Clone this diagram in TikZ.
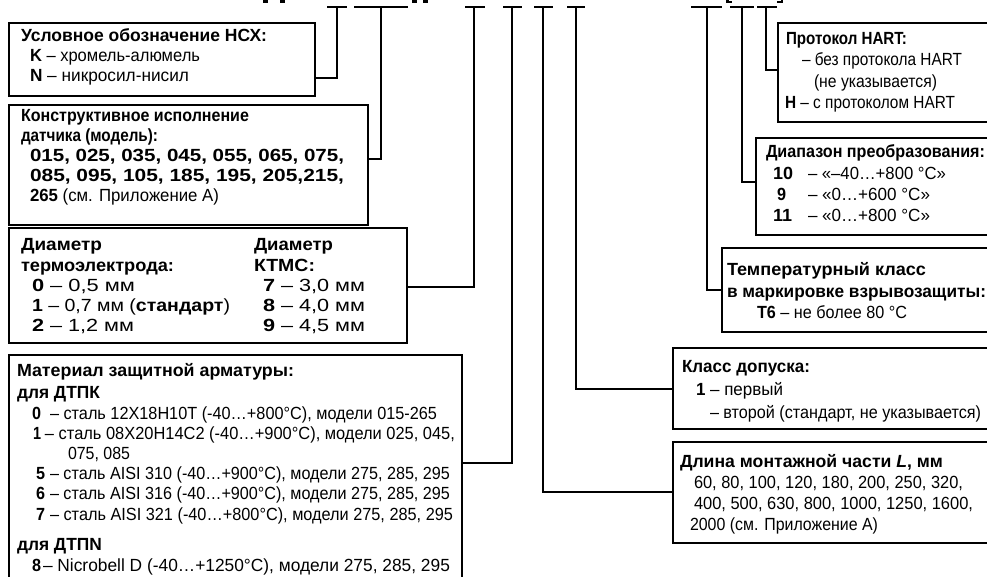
\documentclass[tikz,border=0pt]{standalone}
\usepackage{fontspec}
\usepackage{graphicx}
\setmainfont{Liberation Sans}
\usetikzlibrary{calc}
\newcommand{\fitw}[2]{\resizebox{#1pt}{\height}{#2}}
\tikzset{
  box/.style={draw, line width=2.6pt, inner sep=0pt, outer sep=0pt, anchor=north west, rectangle},
  conn/.style={line width=2.3pt},
  bar/.style={line width=2.3pt},
  txt/.style={anchor=base west, inner sep=0pt, outer sep=0pt, font=\fontsize{17.6}{20}\selectfont},
  frag/.style={fill=black},
}
\begin{document}
\begin{tikzpicture}[x=1pt,y=-1pt]
\useasboundingbox (0,0) rectangle (987,577);
\begin{scope}
\clip (0,0) rectangle (987,577);
% fragments of the cut-off title
\fill[frag] (263,0) rectangle (268,3);
\fill[frag] (280,0) rectangle (285,3);
\fill[frag] (412,0) rectangle (417,3);
\fill[frag] (423,0) rectangle (428,3);
\fill[frag] (726,0) rectangle (728.5,3.5);
\fill[frag] (726,1.5) rectangle (732,3.5);
\fill[frag] (780.5,0) rectangle (783,3.5);
\fill[frag] (777,1.5) rectangle (783,3.5);

% boxes
\node[box, minimum width=306pt, minimum height=73pt]  (b1) at (9,23) {};
\node[box, minimum width=359pt, minimum height=120pt] (b2) at (9,105) {};
\node[box, minimum width=398pt, minimum height=115pt] (b3) at (9,228) {};
\node[box, minimum width=453pt, minimum height=250pt] (b4) at (9,355) {};
\node[box, minimum width=230pt, minimum height=99pt]  (b5) at (778,23) {};
\node[box, minimum width=250pt, minimum height=97pt]  (b6) at (756,138) {};
\node[box, minimum width=280pt, minimum height=84pt]  (b7) at (722,248) {};
\node[box, minimum width=330pt, minimum height=81pt]  (b8) at (673,348) {};
\node[box, minimum width=330pt, minimum height=101pt] (b9) at (673,442) {};

% top marks
\coordinate (t1) at (337,7);
\coordinate (t2) at (381,7);
\coordinate (t3) at (474,7);
\coordinate (t4) at (512,7);
\coordinate (t5) at (543,7);
\coordinate (t6) at (576,7);
\coordinate (t7) at (707,7);
\coordinate (t8) at (742,7);
\coordinate (t9) at (766,7);
\draw[bar] (327,7) -- (347,7);
\draw[bar] (354,7) -- (408,7);
\draw[bar] (465,7) -- (485,7);
\draw[bar] (503,7) -- (522,7);
\draw[bar] (534,7) -- (553,7);
\draw[bar] (567,7) -- (585,7);
\draw[bar] (691,7) -- (722,7);
\draw[bar] (730,7) -- (754,7);
\draw[bar] (757,7) -- (777,7);

% connectors
\draw[conn] (t1) |- ([yshift=-55pt]b1.north east);
\draw[conn] (t2) |- ([yshift=-54pt]b2.north east);
\draw[conn] (t3) |- ([yshift=-59pt]b3.north east);
\draw[conn] (t4) |- ([yshift=-108pt]b4.north east);
\draw[conn] (t5) |- ([yshift=-50pt]b9.north west);
\draw[conn] (t6) |- ([yshift=-41pt]b8.north west);
\draw[conn] (t7) |- ([yshift=-42pt]b7.north west);
\draw[conn] (t8) |- ([yshift=-44pt]b6.north west);
\draw[conn] (t9) |- ([yshift=-47pt]b5.north west);

% box 1
\node[txt] (a1) at (21,42) {\fitw{246}{\textbf{Условное обозначение НСХ:}}};
\node[txt] (a2) at (30,62) {\fitw{170}{\textbf{K} – хромель-алюмель}};
\node[txt] (a3) at (30,82) {\fitw{159}{\textbf{N} – никросил-нисил}};

% box 2
\node[txt] (c1) at (21,122) {\fitw{228}{\textbf{Конструктивное исполнение}}};
\node[txt] (c2) at (21,142) {\fitw{137}{\textbf{датчика (модель):}}};
\node[txt] (c3) at (30,162) {\fitw{314}{\textbf{015, 025, 035, 045, 055, 065, 075,}}};
\node[txt] (c4) at (30,182) {\fitw{314}{\textbf{085, 095, 105, 185, 195, 205,215,}}};
\node[txt] (c5) at (30,202) {\fitw{189}{\textbf{265} (см. Приложение А)}};

% box 3
\node[txt] (d1) at (21,251) {\fitw{81}{\textbf{Диаметр}}};
\node[txt] (d2) at (21,271) {\fitw{153}{\textbf{термоэлектрода:}}};
\node[txt] (d3) at (32,291) {\fitw{103}{\textbf{0} – 0,5 мм}};
\node[txt] (d4) at (32,311) {\fitw{198}{\textbf{1} – 0,7 мм (\textbf{стандарт})}};
\node[txt] (d5) at (32,331) {\fitw{102}{\textbf{2} – 1,2 мм}};
\node[txt] (d6) at (254,251) {\fitw{79}{\textbf{Диаметр}}};
\node[txt] (d7) at (254,271) {\fitw{61}{\textbf{КТМС:}}};
\node[txt] (d8) at (263,291) {\fitw{102}{\textbf{7} – 3,0 мм}};
\node[txt] (d9) at (263,311) {\fitw{102}{\textbf{8} – 4,0 мм}};
\node[txt] (d10) at (263,331) {\fitw{102}{\textbf{9} – 4,5 мм}};

% box 4
\node[txt] (e1) at (17,376) {\fitw{277}{\textbf{Материал защитной арматуры:}}};
\node[txt] (e2) at (17,398) {\fitw{83}{\textbf{для ДТПК}}};
\node[txt] (e3) at (32,419) {\fitw{9}{\textbf{0}}};
\node[txt] (e3b) at (50,419) {\fitw{387}{– сталь 12Х18Н10Т (-40…+800°C), модели 015-265}};
\node[txt] (e4) at (33,439) {\fitw{8}{\textbf{1}}};
\node[txt] (e4b) at (45,439) {\fitw{410}{– сталь 08Х20Н14С2 (-40…+900°C), модели 025, 045,}};
\node[txt] (e5) at (68,459) {\fitw{62}{075, 085}};
\node[txt] (e6) at (36,479) {\fitw{9}{\textbf{5}}};
\node[txt] (e6b) at (50,479) {\fitw{400}{– сталь AISI 310 (-40…+900°C), модели 275, 285, 295}};
\node[txt] (e7) at (36,499) {\fitw{9}{\textbf{6}}};
\node[txt] (e7b) at (50,499) {\fitw{400}{– сталь AISI 316 (-40…+900°C), модели 275, 285, 295}};
\node[txt] (e8) at (36,520) {\fitw{9}{\textbf{7}}};
\node[txt] (e8b) at (50,520) {\fitw{403}{– сталь AISI 321 (-40…+800°C), модели 275, 285, 295}};
\node[txt] (e9) at (17,550) {\fitw{85}{\textbf{для ДТПN}}};
\node[txt] (e10) at (32,571) {\fitw{9}{\textbf{8}}};
\node[txt] (e10b) at (43,571) {\fitw{407}{– Nicrobell D (-40…+1250°C), модели 275, 285, 295}};

% HART
\node[txt] (f1) at (786,45) {\fitw{121}{\textbf{Протокол HART:}}};
\node[txt] (f2) at (802,66) {\fitw{160}{– без протокола HART}};
\node[txt] (f3) at (814,88) {\fitw{123}{(не указывается)}};
\node[txt] (f4) at (785,109) {\fitw{170}{\textbf{H} – с протоколом HART}};

% range
\node[txt] (g1) at (766,158) {\fitw{219}{\textbf{Диапазон преобразования:}}};
\node[txt] (g2) at (773,180) {\fitw{20}{\textbf{10}}};
\node[txt] (g2b) at (808,180) {\fitw{138}{– «–40…+800 °C»}};
\node[txt] (g3) at (777,201) {\fitw{9}{\textbf{9}}};
\node[txt] (g3b) at (808,201) {\fitw{122}{– «0…+600 °C»}};
\node[txt] (g4) at (773,222) {\fitw{19}{\textbf{11}}};
\node[txt] (g4b) at (808,222) {\fitw{122}{– «0…+800 °C»}};

% temperature class
\node[txt] (h1) at (727,276) {\fitw{199}{\textbf{Температурный класс}}};
\node[txt] (h2) at (727,297) {\fitw{259}{\textbf{в маркировке взрывозащиты:}}};
\node[txt] (h3) at (757,318) {\fitw{150}{\textbf{Т6} – не более 80 °C}};

% tolerance class
\node[txt] (k1) at (682,372) {\fitw{128}{\textbf{Класс допуска:}}};
\node[txt] (k2) at (696,395) {\fitw{87}{\textbf{1} – первый}};
\node[txt] (k3) at (710,418) {\fitw{271}{– второй (стандарт, не указывается)}};

% length
\node[txt] (m1) at (680,467) {\fitw{263}{\textbf{Длина монтажной части \textit{L}, мм}}};
\node[txt] (m2) at (694,488) {\fitw{269}{60, 80, 100, 120, 180, 200, 250, 320,}};
\node[txt] (m3) at (694,509) {\fitw{279}{400, 500, 630, 800, 1000, 1250, 1600,}};
\node[txt] (m4) at (690,530) {\fitw{188}{2000 (см. Приложение А)}};
\end{scope}
\end{tikzpicture}
\end{document}
